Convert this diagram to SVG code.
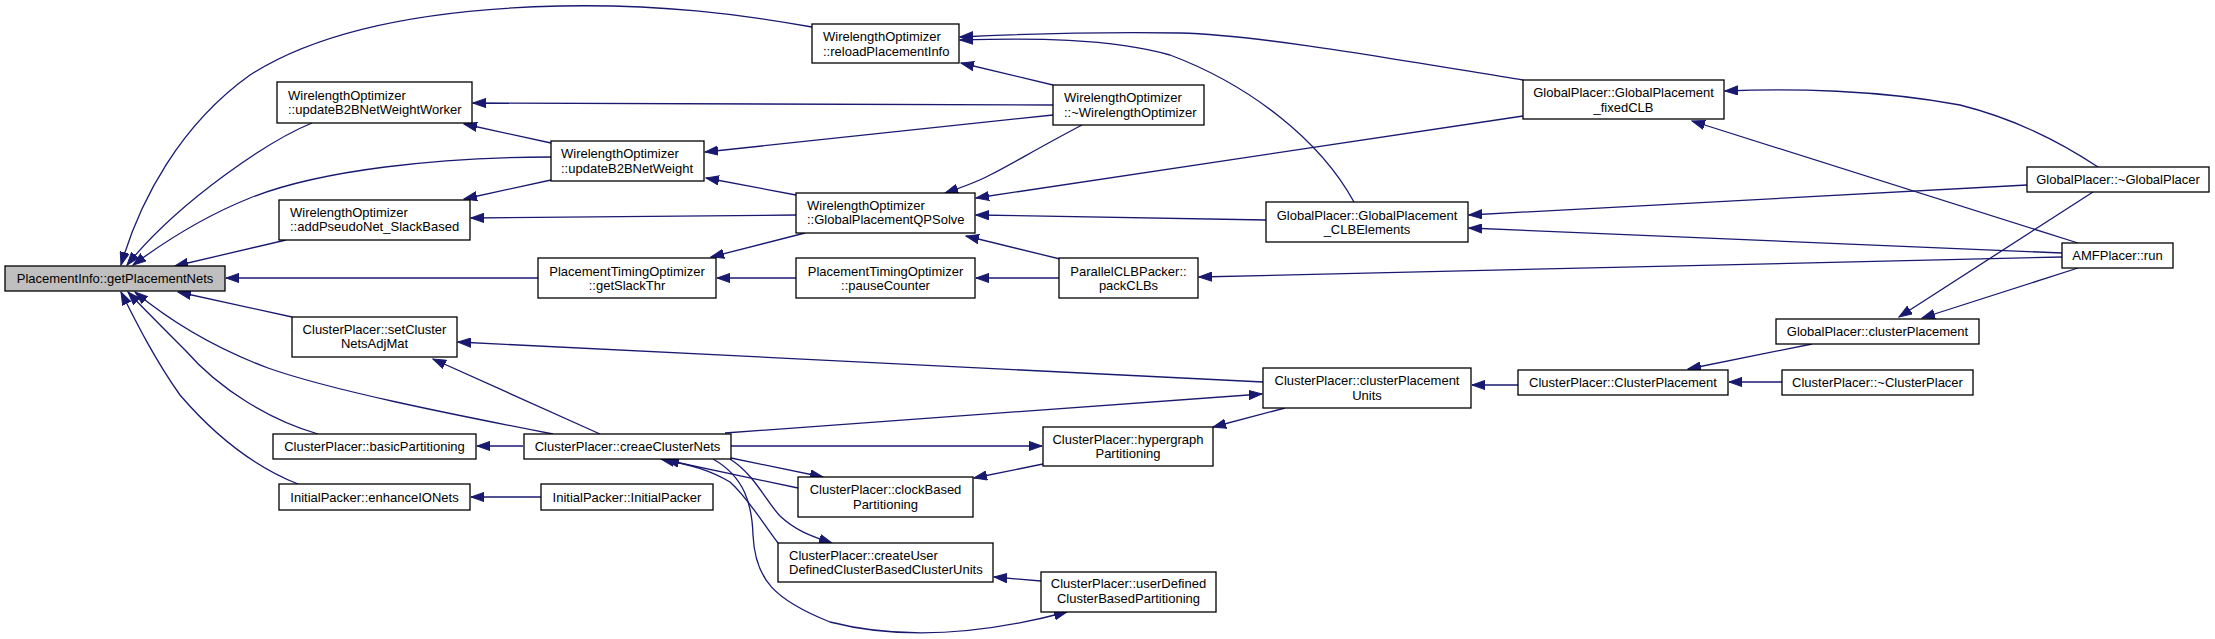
<svg xmlns="http://www.w3.org/2000/svg" width="2215" height="639" viewBox="0 0 2215 639">
<defs>
<marker id="ah" markerUnits="userSpaceOnUse" markerWidth="14" markerHeight="10" viewBox="0 0 14 10" refX="13" refY="5" orient="auto">
<path d="M0,0.4 L13,5 L0,9.6 z" fill="#191970" stroke="#191970" stroke-width="1"/>
</marker>
</defs>
<style>
.n rect{fill:#ffffff;stroke:#000000;stroke-width:1.3}
.n.root rect{fill:#bfbfbf}
.n text{font-family:"Liberation Sans",Arial,Helvetica,sans-serif;font-size:13px;fill:#000000}
.c{text-anchor:middle}
#edges path{fill:none;stroke:#191970;stroke-width:1.3;marker-end:url(#ah)}
</style>
<rect x="0" y="0" width="2215" height="639" fill="#ffffff"/>
<g id="edges">
<path d="M812,27 C740,14 660,4 560,6 C430,9 320,30 250,75 C180,125 140,200 121,265"/>
<path d="M312,123 C270,140 180,200 127,265"/>
<path d="M551,157 C440,157 320,170 250,198 C200,218 160,245 133,265"/>
<path d="M286,240 L175,266"/>
<path d="M538,278 L226,278"/>
<path d="M292,317 L178,292"/>
<path d="M553,434 C450,414 330,390 268,368 C220,350 175,325 135,292"/>
<path d="M318,434 C270,420 220,390 185,350 C160,325 140,305 128,292"/>
<path d="M298,484 C250,465 210,430 180,395 C155,360 135,320 121,292"/>
<path d="M1053,105 L473,103"/>
<path d="M551,143 L464,124"/>
<path d="M1053,115 L705,152"/>
<path d="M796,195 L706,178"/>
<path d="M796,215 L471,218"/>
<path d="M551,180 L464,199"/>
<path d="M805,233 L711,257"/>
<path d="M796,278 L717,278"/>
<path d="M1059,278 L976,278"/>
<path d="M1053,85 L961,63"/>
<path d="M1523,80 C1400,60 1260,35 1180,33 C1100,32 1020,34 960,37"/>
<path d="M1354,202 C1320,140 1250,85 1170,55 C1110,38 1030,38 960,40"/>
<path d="M1082,125 C1040,147 1010,165 990,175 C975,183 960,188 945,193"/>
<path d="M1523,116 L976,198"/>
<path d="M1266,220 L976,215"/>
<path d="M1060,259 L966,236"/>
<path d="M2098,167 C2050,135 2000,115 1960,105 C1880,90 1790,88 1725,91"/>
<path d="M2078,243 L1692,121"/>
<path d="M2027,185 L1469,215"/>
<path d="M2062,253 L1469,228"/>
<path d="M2062,257 L1199,277"/>
<path d="M2093,192 L1899,317"/>
<path d="M2078,268 L1922,318"/>
<path d="M1812,344 L1688,369"/>
<path d="M1782,382 L1729,382"/>
<path d="M1518,385 L1472,385"/>
<path d="M1263,382 L458,342"/>
<path d="M725,433 L1262,394"/>
<path d="M600,434 L433,359"/>
<path d="M523,446 L477,446"/>
<path d="M541,497 L471,497"/>
<path d="M731,446 L1042,446"/>
<path d="M1285,408 L1213,427"/>
<path d="M1043,464 L974,478"/>
<path d="M731,458 L823,477"/>
<path d="M798,488 L661,459"/>
<path d="M730,459 C755,475 765,500 780,516 C795,530 810,536 832,543"/>
<path d="M778,543 C762,522 748,498 730,482 C710,470 690,465 666,460"/>
<path d="M713,459 C745,477 752,505 753,535 C755,580 775,600 830,622 C900,640 980,635 1067,612"/>
<path d="M1041,581 L994,577"/>
</g>
<g id="n0" class="n root"><rect x="5" y="266" width="220" height="25"/><text class="c" x="115" y="283">PlacementInfo::getPlacementNets</text></g>
<g id="n1" class="n"><rect x="812" y="24" width="147" height="39"/><text x="823" y="40.5">WirelengthOptimizer</text><text x="823" y="55.5">::reloadPlacementInfo</text></g>
<g id="n2" class="n"><rect x="277" y="82" width="195" height="41"/><text x="288" y="99.5">WirelengthOptimizer</text><text x="288" y="113.5">::updateB2BNetWeightWorker</text></g>
<g id="n3" class="n"><rect x="551" y="141" width="153" height="40"/><text x="561" y="157.5">WirelengthOptimizer</text><text x="561" y="172.5">::updateB2BNetWeight</text></g>
<g id="n4" class="n"><rect x="279" y="200" width="191" height="40"/><text x="290" y="216.5">WirelengthOptimizer</text><text x="290" y="230.5">::addPseudoNet_SlackBased</text></g>
<g id="n5" class="n"><rect x="538" y="258" width="178" height="40"/><text class="c" x="627" y="275.5">PlacementTimingOptimizer</text><text class="c" x="627" y="289.5">::getSlackThr</text></g>
<g id="n6" class="n"><rect x="292" y="317" width="165" height="40"/><text class="c" x="374.5" y="333.5">ClusterPlacer::setCluster</text><text class="c" x="374.5" y="347.5">NetsAdjMat</text></g>
<g id="n7" class="n"><rect x="273" y="434" width="203" height="25"/><text class="c" x="374.5" y="450.5">ClusterPlacer::basicPartitioning</text></g>
<g id="n8" class="n"><rect x="279" y="484" width="191" height="26"/><text class="c" x="374.5" y="501.5">InitialPacker::enhanceIONets</text></g>
<g id="n9" class="n"><rect x="1053" y="85" width="151" height="40"/><text x="1064" y="101.5">WirelengthOptimizer</text><text x="1064" y="116.5">::~WirelengthOptimizer</text></g>
<g id="n10" class="n"><rect x="796" y="193" width="179" height="40"/><text x="807" y="209.5">WirelengthOptimizer</text><text x="807" y="223.5">::GlobalPlacementQPSolve</text></g>
<g id="n11" class="n"><rect x="796" y="258" width="179" height="40"/><text class="c" x="885.5" y="275.5">PlacementTimingOptimizer</text><text class="c" x="885.5" y="289.5">::pauseCounter</text></g>
<g id="n12" class="n"><rect x="524" y="434" width="207" height="25"/><text class="c" x="627.5" y="450.5">ClusterPlacer::creaeClusterNets</text></g>
<g id="n13" class="n"><rect x="541" y="484" width="172" height="26"/><text class="c" x="627" y="501.5">InitialPacker::InitialPacker</text></g>
<g id="n14" class="n"><rect x="798" y="477" width="175" height="40"/><text class="c" x="885.5" y="493.5">ClusterPlacer::clockBased</text><text class="c" x="885.5" y="508.5">Partitioning</text></g>
<g id="n15" class="n"><rect x="778" y="543" width="215" height="39"/><text x="789" y="559.5">ClusterPlacer::createUser</text><text x="789" y="573.5">DefinedClusterBasedClusterUnits</text></g>
<g id="n16" class="n"><rect x="1523" y="80" width="201" height="39"/><text class="c" x="1623.5" y="96.5">GlobalPlacer::GlobalPlacement</text><text class="c" x="1623.5" y="111.5">_fixedCLB</text></g>
<g id="n17" class="n"><rect x="1266" y="202" width="202" height="40"/><text class="c" x="1367" y="219.5">GlobalPlacer::GlobalPlacement</text><text class="c" x="1367" y="233.5">_CLBElements</text></g>
<g id="n18" class="n"><rect x="1059" y="258" width="139" height="40"/><text class="c" x="1128.5" y="275.5">ParallelCLBPacker::</text><text class="c" x="1128.5" y="289.5">packCLBs</text></g>
<g id="n19" class="n"><rect x="1263" y="368" width="208" height="40"/><text class="c" x="1367" y="384.5">ClusterPlacer::clusterPlacement</text><text class="c" x="1367" y="399.5">Units</text></g>
<g id="n20" class="n"><rect x="1518" y="370" width="210" height="25"/><text class="c" x="1623" y="386.5">ClusterPlacer::ClusterPlacement</text></g>
<g id="n21" class="n"><rect x="1043" y="427" width="170" height="39"/><text class="c" x="1128" y="443.5">ClusterPlacer::hypergraph</text><text class="c" x="1128" y="457.5">Partitioning</text></g>
<g id="n22" class="n"><rect x="1041" y="572" width="175" height="40"/><text class="c" x="1128.5" y="587.5">ClusterPlacer::userDefined</text><text class="c" x="1128.5" y="602.5">ClusterBasedPartitioning</text></g>
<g id="n23" class="n"><rect x="2027" y="167" width="182" height="25"/><text class="c" x="2118" y="183.5">GlobalPlacer::~GlobalPlacer</text></g>
<g id="n24" class="n"><rect x="2062" y="243" width="111" height="25"/><text class="c" x="2117.5" y="259.5">AMFPlacer::run</text></g>
<g id="n25" class="n"><rect x="1776" y="319" width="203" height="25"/><text class="c" x="1877.5" y="335.5">GlobalPlacer::clusterPlacement</text></g>
<g id="n26" class="n"><rect x="1782" y="370" width="191" height="25"/><text class="c" x="1877.5" y="386.5">ClusterPlacer::~ClusterPlacer</text></g>
</svg>
